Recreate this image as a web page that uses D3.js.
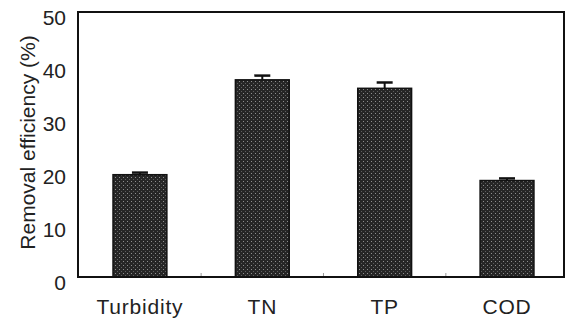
<!DOCTYPE html>
<html>
<head>
<meta charset="utf-8">
<script src="https://cdn.jsdelivr.net/npm/d3@7"></script>
<style>
  body { margin: 0; background: #fff; }
  text { font-family: "Liberation Sans", Arial, sans-serif; fill: #222; }
</style>
</head>
<body>
<div id="chart"></div>
<script>
//Chart Data
let categories = ["Turbidity", "TN", "TP", "COD"];
let removal = [19.3, 37.2, 35.6, 18.2];
let errors = [0.4, 0.8, 1.1, 0.4];
let yTicks = [0, 10, 20, 30, 40, 50];

//SVG Size and Margins
let svgWidth = 569;
let svgHeight = 327;
let margin = { top: 12, bottom: 50, right: 4, left: 78 };
let width = svgWidth - margin.left - margin.right;
let height = svgHeight - margin.top - margin.bottom;

let svg = d3.select("#chart")
  .append("svg")
  .attr("width", svgWidth)
  .attr("height", svgHeight);

//Hatch Pattern for the Bars
let defs = svg.append("defs");
let pat = defs.append("pattern")
  .attr("id", "hatch")
  .attr("width", 4)
  .attr("height", 4)
  .attr("patternUnits", "userSpaceOnUse");
pat.append("rect").attr("width", 4).attr("height", 4).attr("fill", "#262626");
pat.append("rect").attr("x", 1).attr("y", 1).attr("width", 1).attr("height", 1).attr("fill", "#8f8f8f");
pat.append("rect").attr("x", 3).attr("y", 3).attr("width", 1).attr("height", 1).attr("fill", "#5e5e5e");

let chartGroup = svg.append("g")
  .attr("transform", `translate(${margin.left}, ${margin.top})`);

//Scales
let xBandScale = d3.scaleBand()
  .domain(categories)
  .range([0, width])
  .paddingInner(0.56)
  .paddingOuter(0.27)
  .align(0.53);
let yLinearScale = d3.scaleLinear()
  .domain([0, 50])
  .range([height, 0]);

//Bars
chartGroup.selectAll(".bar")
  .data(categories)
  .enter()
  .append("rect")
  .attr("class", "bar")
  .attr("x", d => xBandScale(d))
  .attr("y", (d, i) => yLinearScale(removal[i]))
  .attr("width", xBandScale.bandwidth())
  .attr("height", (d, i) => height - yLinearScale(removal[i]))
  .attr("fill", "url(#hatch)")
  .attr("stroke", "#111")
  .attr("stroke-width", 1.5);

//Error Bars (upper only)
let errGroup = chartGroup.selectAll(".err")
  .data(categories)
  .enter()
  .append("g")
  .attr("class", "err");
errGroup.append("line")
  .attr("x1", d => xBandScale(d) + xBandScale.bandwidth() / 2)
  .attr("x2", d => xBandScale(d) + xBandScale.bandwidth() / 2)
  .attr("y1", (d, i) => yLinearScale(removal[i]))
  .attr("y2", (d, i) => yLinearScale(removal[i] + errors[i]))
  .attr("stroke", "#111")
  .attr("stroke-width", 2);
errGroup.append("line")
  .attr("x1", d => xBandScale(d) + xBandScale.bandwidth() / 2 - 8)
  .attr("x2", d => xBandScale(d) + xBandScale.bandwidth() / 2 + 8)
  .attr("y1", (d, i) => yLinearScale(removal[i] + errors[i]))
  .attr("y2", (d, i) => yLinearScale(removal[i] + errors[i]))
  .attr("stroke", "#111")
  .attr("stroke-width", 2.5);

//Axes
let leftAxis = d3.axisLeft(yLinearScale).tickValues(yTicks).tickSize(0).tickPadding(12);
let yAxisG = chartGroup.append("g").call(leftAxis);
yAxisG.select(".domain").remove();
yAxisG.selectAll("text")
  .attr("dy", "0.6em")
  .style("font-size", "21px")
  .style("font-family", "'Liberation Sans', Arial, sans-serif")
  .attr("fill", "#222");

let bottomAxis = d3.axisBottom(xBandScale).tickSize(0).tickPadding(22);
let xAxisG = chartGroup.append("g")
  .attr("transform", `translate(0, ${height})`)
  .call(bottomAxis);
xAxisG.select(".domain").remove();
xAxisG.selectAll("text")
  .style("font-size", "21px")
  .style("letter-spacing", "0.8px")
  .style("font-family", "'Liberation Sans', Arial, sans-serif")
  .attr("fill", "#222");

//Small inward ticks between categories
let boundaries = categories.slice(1).map(d => xBandScale(d) - xBandScale.step() * xBandScale.paddingInner() / 2);
chartGroup.selectAll(".btick")
  .data(boundaries)
  .enter()
  .append("line")
  .attr("x1", d => d)
  .attr("x2", d => d)
  .attr("y1", height)
  .attr("y2", height - 4)
  .attr("stroke", "#999")
  .attr("stroke-width", 1);

//Plot Frame
chartGroup.append("rect")
  .attr("x", 0)
  .attr("y", 0)
  .attr("width", width - 1)
  .attr("height", height)
  .attr("fill", "none")
  .attr("stroke", "#111")
  .attr("stroke-width", 2);

//Axis Title
chartGroup.append("text")
  .attr("transform", "rotate(-90)")
  .attr("x", 0 - (height / 2) + 2)
  .attr("y", 0 - margin.left + 28)
  .attr("dy", "0.35em")
  .style("text-anchor", "middle")
  .style("font-size", "21px")
  .text("Removal efficiency (%)");
</script>
</body>
</html>
